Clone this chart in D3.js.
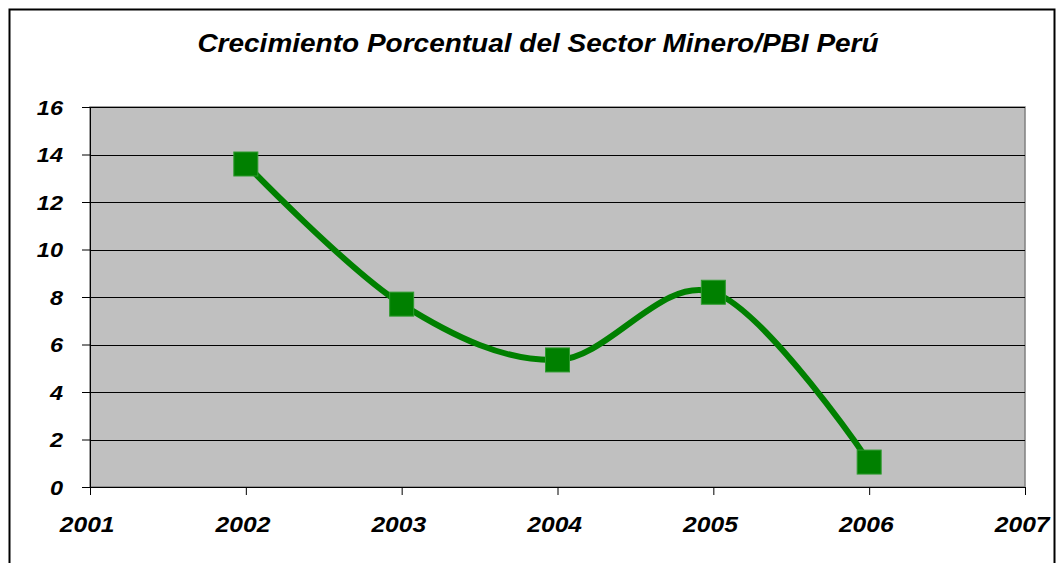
<!DOCTYPE html>
<html><head><meta charset="utf-8">
<script src="https://cdn.jsdelivr.net/npm/d3@7"></script>
<style>html,body{margin:0;padding:0;background:#fff;}svg{display:block;}</style>
</head><body>
<svg id="chart" width="1058" height="563"></svg>
<script>
const title = "Crecimiento Porcentual del Sector Minero/PBI Perú";
const years = [2002, 2003, 2004, 2005, 2006];
const values = [13.6, 7.7, 5.35, 8.2, 1.05];
const xTicks = [2001, 2002, 2003, 2004, 2005, 2006, 2007];
const yTicks = [0, 2, 4, 6, 8, 10, 12, 14, 16];

const svg = d3.select("#chart");
const font = "'Liberation Sans', Arial, sans-serif";
const sx = 1.12;

// outer frame
svg.append("rect").attr("x", 9.5).attr("y", 9.5).attr("width", 1045).attr("height", 600)
  .attr("fill", "#fff").attr("stroke", "#000").attr("stroke-width", 2);

const L = 90, R = 1025, T = 107, B = 487;
const x = d3.scaleLinear().domain([2001, 2007]).range([L, R]);
const y = d3.scaleLinear().domain([0, 16]).range([B, T]);

svg.append("rect").attr("x", L).attr("y", T).attr("width", R - L).attr("height", B - T)
  .attr("fill", "#c0c0c0").attr("stroke", "#808080").attr("stroke-width", 1.5);

// gridlines
svg.append("g").selectAll("line").data(yTicks.filter(d => d > 0)).join("line")
  .attr("x1", L).attr("x2", R).attr("y1", d => Math.round(y(d)) + 0.5).attr("y2", d => Math.round(y(d)) + 0.5)
  .attr("stroke", "#000").attr("stroke-width", 1.2);

// y axis
const yAxis = svg.append("g").attr("transform", `translate(${L},0)`)
  .call(d3.axisLeft(y).tickValues(yTicks).tickSize(8).tickPadding(19).tickFormat(d3.format("d")));
yAxis.select(".domain").attr("stroke", "#000").attr("d", `M0.5,${T}V${B}`);
yAxis.selectAll(".tick line").attr("stroke", "#000");
yAxis.selectAll("text").attr("font-family", font).attr("font-size", 21).attr("font-weight", "bold")
  .attr("font-style", "italic").attr("fill", "#000").attr("dy", "0.34em")
  .attr("x", -27 / sx).attr("transform", `scale(${sx},1)`);

// x axis
const xAxis = svg.append("g").attr("transform", `translate(0,${B})`)
  .call(d3.axisBottom(x).tickValues(xTicks).tickSize(8).tickPadding(21).tickFormat(d3.format("d")));
xAxis.select(".domain").attr("stroke", "#000").attr("d", `M${L},0.5H${R}`);
xAxis.selectAll(".tick line").attr("stroke", "#000");
xAxis.selectAll("text").attr("font-family", font).attr("font-size", 22).attr("font-weight", "bold")
  .attr("font-style", "italic").attr("fill", "#000").attr("x", -3).attr("transform", `scale(${sx},1)`);

// line
const data = years.map((yr, i) => ({yr, v: values[i]}));
const line = d3.line().x(d => x(d.yr)).y(d => y(d.v)).curve(d3.curveCatmullRom.alpha(0));
svg.append("path").datum(data).attr("d", line).attr("fill", "none")
  .attr("stroke", "#008000").attr("stroke-width", 6).attr("stroke-linejoin", "round");

// markers
const s = 24;
svg.append("g").selectAll("rect").data(data).join("rect")
  .attr("x", d => x(d.yr) - s / 2).attr("y", d => y(d.v) - s / 2)
  .attr("width", s).attr("height", s)
  .attr("fill", "#008000").attr("stroke", "#2e9a2e").attr("stroke-width", 1);

// title
svg.append("text").attr("x", 538 / sx).attr("y", 52).attr("text-anchor", "middle")
  .attr("transform", `scale(${sx},1)`)
  .attr("font-family", font).attr("font-size", 25).attr("font-weight", "bold").attr("font-style", "italic")
  .text(title);
</script>
</body></html>
